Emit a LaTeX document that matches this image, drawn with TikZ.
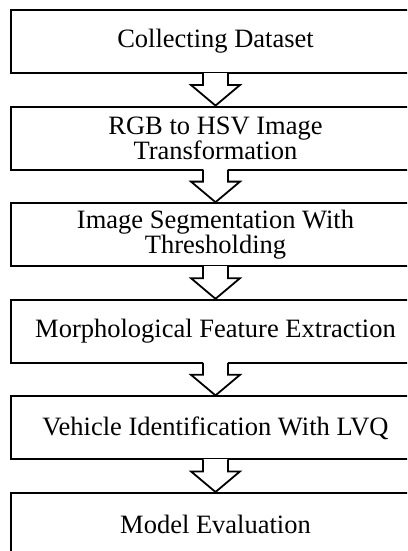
\documentclass[tikz,border=0pt]{standalone}
\usepackage{fontspec}
\setmainfont{Liberation Serif}
\usetikzlibrary{calc}
\tikzset{
  stepbox/.style={draw=black, line width=2pt, fill=white, minimum width=409pt, minimum height=63pt,
    inner sep=0pt, align=center, font=\fontsize{26.5}{25}\selectfont},
  blockarrow/.style={draw=black, line width=1.8pt, line join=miter, fill=white}
}
\newcommand{\flowarrow}[2]{%
  \fill[white] ($(#1.south)+(-12.5,-1.5)$) rectangle ($(#1.south)+(12.5,2)$);
  \draw[blockarrow] ($(#1.south)+(-12.5,-1)$) -- ($(#1.south)+(-12.5,11)$) -- ($(#1.south)+(-24.5,11)$)
     -- (#2.north) -- ($(#1.south)+(24.5,11)$) -- ($(#1.south)+(12.5,11)$) -- ($(#1.south)+(12.5,-1)$);
}
\begin{document}
\begin{tikzpicture}[x=1pt,y=-1pt]
\useasboundingbox (0,0) rectangle (407,551);
\fill[white] (0,0) rectangle (407,551);
\clip (0,0) rectangle (407,551);
\node[stepbox] (b1) at (215.5,41.5) {Collecting Dataset};
\node[stepbox] (b2) at (215.5,138.1) {RGB to HSV Image\\Transformation};
\node[stepbox] (b3) at (215.5,234.7) {Image Segmentation With\\Thresholding};
\node[stepbox] (b4) at (215.5,331.3) {Morphological Feature Extraction};
\node[stepbox] (b5) at (215.5,427.9) {Vehicle Identification With LVQ};
\node[stepbox] (b6) at (215.5,524.5) {Model Evaluation};
\flowarrow{b1}{b2}
\flowarrow{b2}{b3}
\flowarrow{b3}{b4}
\flowarrow{b4}{b5}
\flowarrow{b5}{b6}
\end{tikzpicture}
\end{document}
